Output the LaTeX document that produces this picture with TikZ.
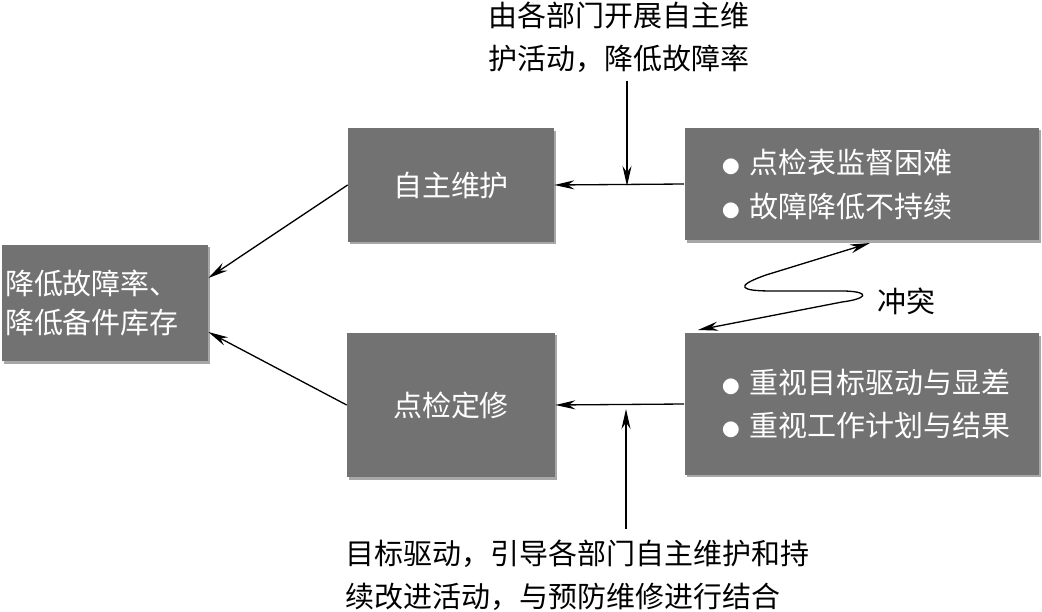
\documentclass[tikz,border=0pt]{standalone}
\usepackage{fontspec}
\setmainfont{Noto Sans CJK SC}
\usepackage{tikz}
\usepackage{xcolor}
\usetikzlibrary{arrows.meta,positioning,shadows}
\definecolor{blockgray}{RGB}{114,114,114}
\definecolor{shadowgray}{RGB}{60,60,60}
\newcommand{\dotmark}{{\fontsize{10pt}{10pt}\selectfont ●}~}

\begin{document}
\begin{tikzpicture}[
        x=0.02cm,y=-0.02cm,
        grayblock/.style={rectangle,fill=blockgray,text=white,
          drop shadow={shadow xshift=0.04cm,shadow yshift=-0.05cm,opacity=0.45,fill=shadowgray},
          font=\fontsize{16.5pt}{25pt}\selectfont,align=center},
        listblock/.style={grayblock,align=left,text width=5.6cm,inner xsep=0.75cm,
          minimum width=7.1cm},
        notetext/.style={font=\fontsize{16.5pt}{24.5pt}\selectfont,inner sep=0pt},
        arrow/.style={-{Stealth[length=4mm,width=1.8mm]},line width=0.75pt,draw=black}
      ]
        \useasboundingbox (0,0) rectangle (1042,612);
        \node[grayblock,align=left,text width=4.0cm,inner xsep=0.06cm,minimum height=2.34cm,
          font=\fontsize{16.5pt}{22.5pt}\selectfont] (goal) at (105,303) {降低故障率、\\降低备件库存};
        \node[grayblock,minimum width=4.12cm,minimum height=2.28cm] (selfmt) at (451,185) {自主维护};
        \node[grayblock,minimum width=4.16cm,minimum height=2.9cm] (inspect) at (451,405) {点检定修};
        \node[listblock,minimum height=2.26cm] (issues) at (862,184)
          {\mbox{\dotmark 点检表监督困难}\\\mbox{\dotmark 故障降低不持续}};
        \node[listblock,minimum height=2.84cm] (focus) at (862,404)
          {\mbox{\dotmark 重视目标驱动与显差}\\\mbox{\dotmark 重视工作计划与结果}};
        \node[notetext,align=center] (topnote) at (619,37) {由各部门开展自主维\\护活动，降低故障率};
        \node[notetext,align=left,anchor=west] (botnote) at (345,575) {目标驱动，引导各部门自主维护和持\\续改进活动，与预防维修进行结合};
        \node[notetext] (clash) at (906,301) {冲突};
        \coordinate (j1) at (627,186);
        \coordinate (j2) at (626,409);
        \coordinate (c1) at (870,243);
        \coordinate (c2) at (698,330);
        \draw[arrow] (issues.west) -- (selfmt.east);
        \draw[arrow] (focus.west) -- (inspect.east);
        \draw[arrow] (j1 |- topnote.south) ++(0,8) -- (j1);
        \draw[arrow] (j2 |- botnote.north) ++(0,-10) -- (j2);
        \draw[arrow] (selfmt.west) -- ([yshift=0.5cm]goal.east);
        \draw[arrow] (inspect.west) -- ([yshift=-0.58cm]goal.east);
        % conflict squiggle
        \draw[arrow,{Stealth[length=4mm,width=1.8mm]}-{Stealth[length=4mm,width=1.8mm]}]
          (c1) -- (766,275) .. controls (732,287) and (742,291) .. (772,291)
          -- (845,291) .. controls (872,292) and (866,299) .. (842,302) -- (c2);
      \end{tikzpicture}
\end{document}
